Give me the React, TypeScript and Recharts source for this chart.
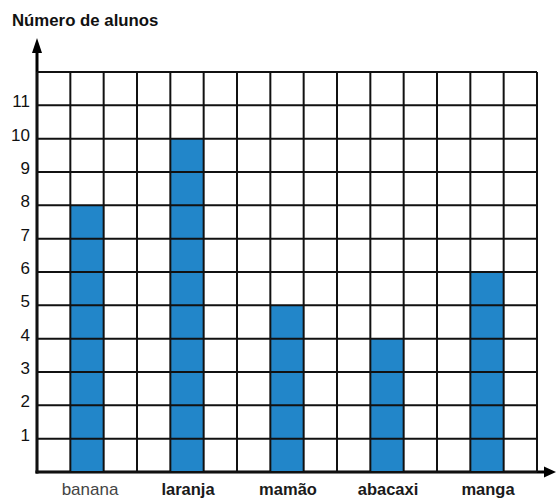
import { BarChart, Bar, XAxis, YAxis, CartesianGrid, usePlotArea } from 'recharts';

document.body.style.margin = '0';

const categories = ['banana', 'laranja', 'mamão', 'abacaxi', 'manga'];
const alunos = [8, 10, 5, 4, 6];
const yTicks = [0, 1, 2, 3, 4, 5, 6, 7, 8, 9, 10, 11, 12];
// each category takes 3 grid columns
const gridCols = [0, 1, 2, 3, 4, 5, 6, 7, 8, 9, 10, 11, 12, 13, 14, 15];

const chartData = categories.map((name, i) => ({ name, alunos: alunos[i] }));

const FONT = '"Liberation Sans", Arial, Helvetica, sans-serif';

const Arrows = () => {
  const area = usePlotArea();
  if (!area) return null;
  const { x, y, width, height } = area;
  const bottom = y + height;
  const topTip = y - 34;
  const rightTip = x + width + 19;
  return (
    <g>
      <line x1={x} y1={bottom + 1.5} x2={x} y2={topTip + 8} stroke="#000" strokeWidth={3} />
      <polygon points={`${x},${topTip} ${x - 5},${topTip + 15} ${x + 5},${topTip + 15}`} fill="#000" />
      <line x1={x - 1.5} y1={bottom} x2={rightTip - 8} y2={bottom} stroke="#000" strokeWidth={3} />
      <polygon points={`${rightTip},${bottom} ${rightTip - 12},${bottom - 5.5} ${rightTip - 12},${bottom + 5.5}`} fill="#000" />
    </g>
  );
};

const CategoryTick = (props: any) => {
  const { x, y, payload, index } = props;
  const first = index === 0;
  return (
    <text
      x={x}
      y={y}
      dx={first ? 3 : 1}
      dy="0.71em"
      textAnchor="middle"
      fontFamily={FONT}
      fontSize={first ? 17 : 16.5}
      fontWeight={first ? 400 : 700}
      fill={first ? '#444' : '#1a1a1a'}
    >
      {payload.value}
    </text>
  );
};

const App = () => {
  return (
    <div style={{ position: 'relative', width: 556, height: 498, background: '#fff' }}>
      <div
        style={{
          position: 'absolute',
          left: 12,
          top: 11,
          fontFamily: FONT,
          fontWeight: 700,
          fontSize: 16.8,
          color: '#111',
        }}
      >
        Número de alunos
      </div>
      <BarChart
        width={556}
        height={498}
        data={chartData}
        margin={{ top: 72, right: 19, left: 0, bottom: 0 }}
        barCategoryGap="33.333%"
      >
        <XAxis
          dataKey="name"
          height={26}
          axisLine={false}
          tickLine={false}
          tickSize={0}
          tickMargin={11}
          interval={0}
          tick={<CategoryTick />}
        />
        <YAxis
          width={37}
          type="number"
          domain={[0, 12]}
          ticks={yTicks}
          interval={0}
          axisLine={false}
          tickLine={false}
          tickSize={0}
          tickMargin={7}
          tickFormatter={(v: number) => (v === 0 || v === 12 ? '' : String(v))}
          tick={{ fontFamily: FONT, fontSize: 17, fill: '#111', dy: -4 }}
        />
        <Bar dataKey="alunos" fill="#2286c9" isAnimationActive={false} />
        <CartesianGrid
          stroke="#111"
          strokeWidth={2}
          fill="none"
          zIndex={500}
          verticalCoordinatesGenerator={({ offset }: any) =>
            gridCols.map((c) => offset.left + (c * offset.width) / (gridCols.length - 1))
          }
        />
        <Arrows />
      </BarChart>
    </div>
  );
};

export default App;
